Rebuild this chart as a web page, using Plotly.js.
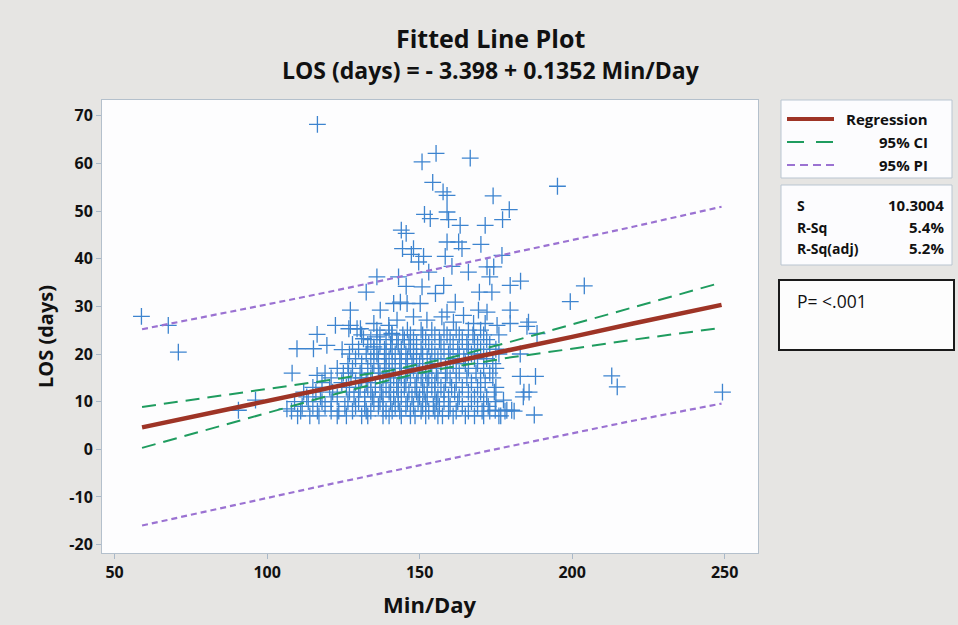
<!DOCTYPE html>
<html>
<head>
<meta charset="utf-8">
<script src="https://cdn.plot.ly/plotly-3.0.1.min.js"></script>
<style>html,body{margin:0;padding:0;background:#e6e5e3;}#chart{width:958px;height:625px;}</style>
</head>
<body>
<div id="chart"></div>
<script>
// ---- data ----
const minDay = [
58.8,67.6,70.9,116.5,90.6,96.2,195.2,249.3,213,214.8,199.4,204,187.6,
155.4,166.6,150.8,154.3,157.7,159,174.1,179.4,177.2,
151.6,153.5,159,159.5,163.3,171.5,144,145.6,170.1,
144.4,148,147.3,151.3,149.7,159,162.8,163.9,158.4,160.6,177,172.1,174.3,173,166,153,136,143.1,132.5,145.6,150.8,157.9,155.2,169.6,173.7,179.7,183.1,
127.3,137.1,141.5,143.7,145.9,150.2,161.7,159,164.4,169.3,172.1,179.7,
122.4,127.3,130.6,135,139.9,142.6,148,152.4,157.3,161.1,167.7,171.5,175.4,179.7,185.7,185.2,188.5,
131.6,136,140.9,116.4,109.8,115.2,119.6,124.6,126.8,129.5,135,108.2,116.4,126.7,106.5,
183,188,184.2,185.9,177.5,178.6,180.2,174.8,176.6,184,183,
110,114,117,123,126,131,133,138,140,144,147,148.5,152,156,157.5,161,165,168,171,176,
108,111,116.5,121,123.5,128,132.5,134,139,141,143.5,147,150.5,153,155,159.5,162,166,170.5,173,178,181,
111.5,115,119,125.5,129,132,136.5,138,142,145.5,148,151,154.5,156.5,160,164,169,172.5,
109,113.5,118,121,126.5,130,135,137,140.5,143,146,149.5,152,155.5,158,162.5,167,171,175,
113,117.5,123,128.5,132,134.5,138,141.5,144,147.5,150,152.5,156,159.5,163,168,172,
112,116,121.5,127,130,134,137.5,140,143,146.5,149,151.5,155,158,161.5,166,170,174.5,
115,120.5,126,130.5,133,135.5,139,142.5,145,148.5,151,154,157,160.5,164,169,175,
118,124.5,129,132.5,137,140.5,143,145.5,149,152.5,155,158.5,162,167,171.5,
121,127.5,131,134,138,141.5,144,147,150.5,153,156,160,165.5,170,174,
119,125,130.5,134.5,137,140,143.5,146,149.5,152,155.5,159,163,168.5,173,
123,128,133,136.5,139,142,145.5,148,151,154,158.5,162,166,171,175,
126.5,131,135,138.5,141,144,147.5,150,153.5,157,161,165,169,174,
129,134,136.5,140,143.5,146,149,152.5,156,160,164.5,168,172,
127,132.5,136,139,142,145.5,148,151,155,159.5,163,167,171,176,
130,135,138.5,141,144,147,150.5,154,158,162.5,166,170,175,
128,133,137,140.5,143,146.5,149,153,157,161,165.5,169,173,
134,139,142.5,145,148,152,156.5,160,164,168,172,
131,137,141,144.5,147,151,155,159,163,167.5,171,176,
136,140,146,150.5,154,158,162,166,170
];
const losDays = [
27.9,26.0,20.4,68.2,8.2,10.3,55.2,12.0,15.4,13.1,31.0,34.3,7.2,
62.1,61.1,60.3,56.0,54.0,53.3,53.2,50.3,48.2,
49.3,48.4,49.8,48.2,47,47,46,45.3,43,
42.1,42.1,40.9,40.5,39.3,43.5,43.5,42.1,40.5,38.4,40.7,38.3,38.3,36.2,37.2,37.2,36.2,36.2,33,34.2,34.1,34.4,32.7,33,33,34.4,35.3,
29.2,29.2,30.6,30.9,30.6,30.6,30.9,28.8,28.1,29.2,28.8,29.2,
26,26,25.3,26.4,26,27.1,27.8,27.1,27.8,26.7,26.4,26.4,26,26.4,26.7,25.8,24.3,
23.2,23.6,24.3,24.1,21.1,21.1,21.8,20.9,25.3,25.3,21.5,16.0,15.5,16.0,8.5,
15.3,15.3,12,12,10.3,8.2,8.2,8.2,7,11,20,
7,7,7,7,7,7,7,7,7,7,7,7,7,7,7,7,7,7,7,7,
8,8,8,8,8,8,8,8,8,8,8,8,8,8,8,8,8,8,8,8,8,8,
9,9,9,9,9,9,9,9,9,9,9,9,9,9,9,9,9,9,
10,10,10,10,10,10,10,10,10,10,10,10,10,10,10,10,10,10,10,
11,11,11,11,11,11,11,11,11,11,11,11,11,11,11,11,11,
12,12,12,12,12,12,12,12,12,12,12,12,12,12,12,12,12,12,
13,13,13,13,13,13,13,13,13,13,13,13,13,13,13,13,13,
14,14,14,14,14,14,14,14,14,14,14,14,14,14,14,
15,15,15,15,15,15,15,15,15,15,15,15,15,15,15,
16,16,16,16,16,16,16,16,16,16,16,16,16,16,16,
17,17,17,17,17,17,17,17,17,17,17,17,17,17,17,
18,18,18,18,18,18,18,18,18,18,18,18,18,18,
19,19,19,19,19,19,19,19,19,19,19,19,19,
20,20,20,20,20,20,20,20,20,20,20,20,20,20,
21,21,21,21,21,21,21,21,21,21,21,21,21,
22,22,22,22,22,22,22,22,22,22,22,22,22,
23,23,23,23,23,23,23,23,23,23,23,
24,24,24,24,24,24,24,24,24,24,24,24,
25,25,25,25,25,25,25,25,25
];
const fitX   = [59, 80, 100, 120, 140, 150, 160, 180, 200, 220, 249];
const fitY   = [4.6, 7.4, 10.1, 12.8, 15.5, 16.9, 18.2, 20.9, 23.6, 26.4, 30.3];
const ciUp   = [8.9, 10.8, 12.6, 14.5, 16.5, 17.8, 19.2, 22.6, 26.2, 29.7, 35.0];
const ciLow  = [0.3, 4.0, 7.6, 11.2, 14.5, 16.0, 17.2, 19.3, 21.1, 23.0, 25.5];
const piUp   = [25.2, 27.8, 30.4, 33.0, 35.7, 37.1, 38.4, 41.2, 43.9, 46.7, 50.9];
const piLow  = [-16.0, -13.0, -10.2, -7.4, -4.7, -3.3, -2.0, 0.7, 3.4, 6.0, 9.6];
const xTicks = [50, 100, 150, 200, 250];
const yTicks = [-20, -10, 0, 10, 20, 30, 40, 50, 60, 70];
const legendNames = ["Regression", "95% CI", "95% PI"];
const statNames  = ["S", "R-Sq", "R-Sq(adj)"];
const statValues = ["10.3004", "5.4%", "5.2%"];
const titleText = "Fitted Line Plot";
const subtitleText = "LOS (days) = - 3.398 + 0.1352 Min/Day";
const pText = "P= &lt;.001";

// ---- layout helpers (pixel -> paper) ----
const W = 958, H = 625;
const L = 102, R = 200, T = 100, B = 72;
const PW = W - L - R, PH = H - T - B;
const px = v => (v - L) / PW;
const py = v => (H - B - v) / PH;

const FONT = "Open Sans, Noto Sans, sans-serif";
const colReg = "#9e3426", colCI = "#1f9c5f", colPI = "#9b72d2", colPt = "#3d84cf";

const traces = [
  {x: minDay, y: losDays, type: "scatter", mode: "markers",
   marker: {symbol: "cross-thin-open", size: 12, color: colPt, line: {color: colPt, width: 1.3}},
   hoverinfo: "x+y", showlegend: false},
  {x: fitX, y: piUp, mode: "lines", line: {color: colPI, width: 2.2, dash: "6px,4px"}, showlegend: false},
  {x: fitX, y: piLow, mode: "lines", line: {color: colPI, width: 2.2, dash: "6px,4px"}, showlegend: false},
  {x: fitX, y: ciUp, mode: "lines", line: {color: colCI, width: 2, dash: "14px,8px"}, showlegend: false},
  {x: fitX, y: ciLow, mode: "lines", line: {color: colCI, width: 2, dash: "14px,8px"}, showlegend: false},
  {x: fitX, y: fitY, mode: "lines", line: {color: colReg, width: 4.5}, showlegend: false}
];

const shapes = [
  {type: "rect", xref: "paper", yref: "paper", x0: px(781), x1: px(952), y0: py(100), y1: py(178),
   line: {color: "#b9c5d1", width: 1}, fillcolor: "#fcfcfe", layer: "below"},
  {type: "line", xref: "paper", yref: "paper", x0: px(787), x1: px(834), y0: py(119), y1: py(119),
   line: {color: colReg, width: 4}},
  {type: "line", xref: "paper", yref: "paper", x0: px(787), x1: px(834), y0: py(142), y1: py(142),
   line: {color: colCI, width: 2, dash: "17px,12px"}},
  {type: "line", xref: "paper", yref: "paper", x0: px(787), x1: px(835), y0: py(165), y1: py(165),
   line: {color: colPI, width: 2, dash: "8px,5px"}},
  {type: "rect", xref: "paper", yref: "paper", x0: px(781), x1: px(952), y0: py(185), y1: py(265),
   line: {color: "#b9c5d1", width: 1}, fillcolor: "#fcfcfe", layer: "below"},
  {type: "rect", xref: "paper", yref: "paper", x0: px(779), x1: px(954), y0: py(280), y1: py(350),
   line: {color: "#1a1a1a", width: 2}, fillcolor: "#fdfdfd", layer: "below"}
];

const ann = [];
ann.push({text: titleText, xref: "paper", yref: "paper", x: px(490), y: py(38), showarrow: false,
  xanchor: "center", yanchor: "middle", font: {family: FONT, size: 25, color: "#111", weight: "bold"}});
ann.push({text: subtitleText, xref: "paper", yref: "paper", x: px(491), y: py(70), showarrow: false,
  xanchor: "center", yanchor: "middle", font: {family: FONT, size: 23, color: "#111", weight: "bold"}});
ann.push({text: "Min/Day", xref: "paper", yref: "paper", x: px(430), y: py(604), showarrow: false,
  xanchor: "center", yanchor: "middle", font: {family: FONT, size: 22, color: "#111", weight: "bold"}});
ann.push({text: "LOS (days)", xref: "paper", yref: "paper", x: px(45), y: py(337), showarrow: false,
  textangle: -90, xanchor: "center", yanchor: "middle", font: {family: FONT, size: 20, color: "#111", weight: "bold"}});
const legY = [119, 142, 165];
legendNames.forEach((n, i) => ann.push({text: n, xref: "paper", yref: "paper", x: px(930), y: py(legY[i]),
  showarrow: false, xanchor: "right", yanchor: "middle", font: {family: FONT, size: 15, color: "#111", weight: "bold"}}));
const stY = [205, 227, 248];
statNames.forEach((n, i) => {
  ann.push({text: n, xref: "paper", yref: "paper", x: px(795), y: py(stY[i]), showarrow: false,
    xanchor: "left", yanchor: "middle", font: {family: FONT, size: 14, color: "#111", weight: "bold"}});
  ann.push({text: statValues[i], xref: "paper", yref: "paper", x: px(946), y: py(stY[i]), showarrow: false,
    xanchor: "right", yanchor: "middle", font: {family: FONT, size: 15, color: "#111", weight: "bold"}});
});
ann.push({text: pText, xref: "paper", yref: "paper", x: px(795), y: py(301), showarrow: false,
  xanchor: "left", yanchor: "middle", font: {family: FONT, size: 17.5, color: "#111"}});

const layout = {
  width: W, height: H,
  margin: {l: L, r: R, t: T, b: B, pad: 0},
  paper_bgcolor: "#e6e5e3", plot_bgcolor: "#fdfdfe",
  showlegend: false,
  xaxis: {range: [45.87, 260.95], tickvals: xTicks, ticktext: xTicks.map(String),
    showgrid: false, zeroline: false, showline: true, mirror: true, linecolor: "#b4c0cc", linewidth: 1,
    ticks: "outside", ticklen: 5, tickcolor: "#a9b8c8", tickwidth: 1,
    tickfont: {family: FONT, size: 16, color: "#111", weight: "bold"}},
  yaxis: {range: [-21.76, 73.3], tickvals: yTicks, ticktext: yTicks.map(String),
    showgrid: false, zeroline: false, showline: true, mirror: true, linecolor: "#b4c0cc", linewidth: 1,
    ticks: "outside", ticklen: 5, tickcolor: "#a9b8c8", tickwidth: 1,
    tickfont: {family: FONT, size: 16, color: "#111", weight: "bold"}},
  shapes: shapes,
  annotations: ann
};

Plotly.newPlot("chart", traces, layout, {displayModeBar: false, staticPlot: true});
</script>
</body>
</html>
